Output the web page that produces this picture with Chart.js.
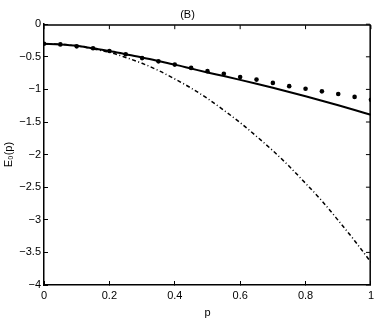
<!DOCTYPE html>
<html>
<head>
<meta charset="utf-8">
<script src="https://cdn.jsdelivr.net/npm/chart.js@4.4.0/dist/chart.umd.min.js"></script>
<style>
  html, body { margin: 0; padding: 0; background: #fff; }
  #wrap { width: 382px; height: 321px; position: relative; }
</style>
</head>
<body>
<div id="wrap"><canvas id="chart"></canvas></div>
<script>
// p values of the solid and dash-dot curves
const curveP = [0, 0.05, 0.1, 0.15, 0.2, 0.25, 0.3, 0.35, 0.4, 0.45, 0.5, 0.55, 0.6, 0.65, 0.7, 0.75, 0.8, 0.85, 0.9, 0.95, 1];
// solid line
const solidE = [-0.30, -0.31, -0.33, -0.37, -0.41, -0.46, -0.51, -0.565, -0.62, -0.68, -0.74, -0.796, -0.854, -0.914, -0.976, -1.04, -1.106, -1.174, -1.244, -1.316, -1.39];
// dash-dot line
const dashDotE = [-0.30, -0.31, -0.33, -0.38, -0.43, -0.51, -0.60, -0.71, -0.84, -0.98, -1.14, -1.32, -1.51, -1.72, -1.94, -2.18, -2.44, -2.71, -3.01, -3.32, -3.65];
// dots
const dotP = [0, 0.05, 0.1, 0.15, 0.2, 0.25, 0.3, 0.35, 0.4, 0.45, 0.5, 0.55, 0.6, 0.65, 0.7, 0.75, 0.8, 0.85, 0.9, 0.95, 1];
const dotE = [-0.30, -0.31, -0.34, -0.37, -0.41, -0.46, -0.52, -0.57, -0.62, -0.67, -0.72, -0.76, -0.81, -0.85, -0.90, -0.95, -0.99, -1.03, -1.07, -1.115, -1.16];

const xTicks = [0, 0.2, 0.4, 0.6, 0.8, 1];
const yTicks = [0, -0.5, -1, -1.5, -2, -2.5, -3, -3.5, -4];

const FONT = 'Liberation Sans, Arial, sans-serif';

const toPoints = (xs, ys) => xs.map((x, i) => ({ x: x, y: ys[i] }));
const fmt = (v) => v === 0 ? '0' : (v < 0 ? '\u2212' : '') + String(Math.abs(Number(v.toFixed(1))));

// ticks pointing into the plot; a fresh object for each axis
const mkGrid = () => ({ drawOnChartArea: false, drawTicks: true, tickLength: -4, color: '#000', lineWidth: 1 });
const mkBorder = () => ({ display: true, color: '#000', width: 1.5 });

// top and right edges of the box, drawn just inside the plot area
const probe = {
  id: 'probe',
  afterDraw(chart) {
    const c = chart.ctx, a = chart.chartArea;
    c.save();
    c.strokeStyle = '#000';
    c.lineWidth = 1.5;
    c.beginPath();
    c.moveTo(a.left, a.top + 0.75);
    c.lineTo(a.right - 0.75, a.top + 0.75);
    c.lineTo(a.right - 0.75, a.bottom);
    c.stroke();
    c.lineWidth = 1;
    xTicks.forEach(t => {
      const px = chart.scales.x.getPixelForValue(t);
      c.beginPath(); c.moveTo(px, a.top + 1); c.lineTo(px, a.top + 5); c.stroke();
    });
    yTicks.forEach(t => {
      const py = chart.scales.y.getPixelForValue(t);
      c.beginPath(); c.moveTo(a.right - 1, py); c.lineTo(a.right - 5, py); c.stroke();
    });
    c.restore();
  }
};

new Chart(document.getElementById('chart'), {
  type: 'scatter',
  plugins: [probe],
  data: {
    datasets: [
      {
        data: toPoints(curveP, solidE),
        showLine: true,
        borderColor: '#000',
        borderWidth: 2,
        pointRadius: 0,
        cubicInterpolationMode: 'monotone',
      },
      {
        data: toPoints(curveP, dashDotE),
        showLine: true,
        borderColor: '#000',
        borderWidth: 1.5,
        borderDash: [4, 2.5, 1, 2.5],
        pointRadius: 0,
        cubicInterpolationMode: 'monotone',
      },
      {
        data: toPoints(dotP, dotE),
        showLine: false,
        backgroundColor: '#000',
        borderColor: '#000',
        pointRadius: 2.3,
        pointBorderWidth: 0,
      },
    ],
  },
  options: {
    responsive: true,
    maintainAspectRatio: false,
    animation: false,
    layout: { padding: { left: 0, right: 7, top: 0, bottom: 0 } },
    plugins: {
      legend: { display: false },
      tooltip: { enabled: false },
      title: {
        display: true,
        text: '(B)',
        color: '#000',
        font: { family: FONT, size: 11, weight: 'normal' },
        padding: { top: 8, bottom: 3 },
      },
    },
    scales: {
      x: {
        type: 'linear',
        position: 'bottom',
        min: 0,
        max: 1,
        grid: mkGrid(),
        border: mkBorder(),
        afterBuildTicks: (s) => { s.ticks = xTicks.map(v => ({ value: v })); },
        afterFit: (s) => { s.height = 36; },
        ticks: {
          color: '#000',
          padding: 8,
          maxRotation: 0,
          font: { family: FONT, size: 11 },
          callback: fmt,
        },
        title: {
          display: true,
          text: 'p',
          color: '#000',
          font: { family: FONT, size: 11 },
          padding: { top: 0, bottom: 1 },
        },
      },
      y: {
        type: 'linear',
        position: 'left',
        min: -4,
        max: 0,
        grid: mkGrid(),
        border: mkBorder(),
        afterBuildTicks: (s) => { s.ticks = yTicks.map(v => ({ value: v })); },
        afterFit: (s) => { s.width = 44; },
        ticks: {
          color: '#000',
          padding: 7,
          font: { family: FONT, size: 11 },
          callback: fmt,
        },
        title: {
          display: true,
          text: 'E\u2080(p)',
          color: '#000',
          font: { family: FONT, size: 11 },
          padding: { top: 2, bottom: 0 },
        },
      },
    },
  },
});
</script>
</body>
</html>
